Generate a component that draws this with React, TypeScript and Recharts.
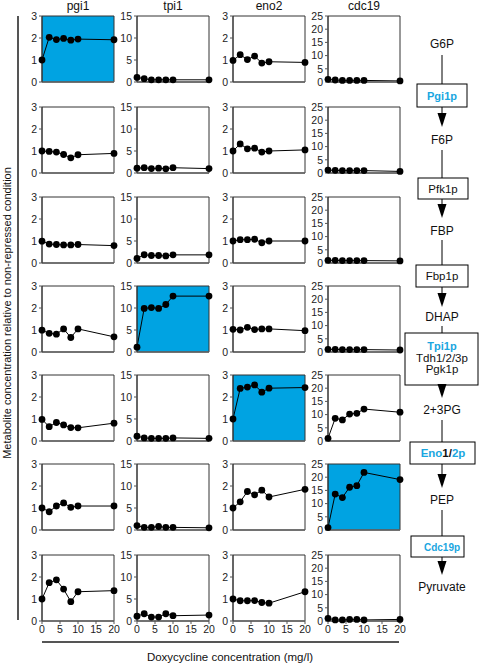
import React from 'react';
import { LineChart, Line, XAxis, YAxis, ReferenceArea } from 'recharts';

const doxycycline = [0, 2, 4, 6, 8, 10, 20];
const xTicks = [0, 5, 10, 15, 20];
const genes = ['pgi1', 'tpi1', 'eno2', 'cdc19'];
const metabolites = ['G6P', 'F6P', 'FBP', 'DHAP', '2+3PG', 'PEP', 'Pyruvate'];

const pgi1Values = [
  [1.0, 2.03, 1.93, 1.98, 1.9, 1.95, 1.92],
  [1.0, 0.98, 0.95, 0.84, 0.69, 0.83, 0.89],
  [0.99, 0.86, 0.84, 0.82, 0.82, 0.84, 0.79],
  [0.99, 0.85, 0.81, 1.05, 0.66, 1.05, 0.69],
  [0.98, 0.65, 0.84, 0.73, 0.61, 0.6, 0.81],
  [1.0, 0.83, 1.09, 1.23, 1.03, 1.09, 1.09],
  [1.0, 1.74, 1.87, 1.45, 0.88, 1.33, 1.38],
];
const tpi1Values = [
  [1.05, 0.75, 0.5, 0.5, 0.5, 0.5, 0.5],
  [1.1, 1.2, 1.0, 1.1, 0.95, 1.2, 1.0],
  [1.05, 1.87, 1.7, 1.7, 1.6, 1.85, 1.85],
  [1.1, 9.9, 10.1, 9.9, 10.8, 12.7, 12.7],
  [1.1, 0.7, 0.6, 0.6, 0.6, 0.7, 0.6],
  [1.0, 0.6, 0.6, 0.8, 0.6, 0.6, 0.5],
  [1.1, 1.65, 0.9, 0.9, 1.65, 1.2, 1.35],
];
const eno2Values = [
  [0.98, 1.24, 1.02, 1.18, 0.86, 0.92, 0.89],
  [1.0, 1.32, 1.1, 1.13, 0.95, 1.0, 1.05],
  [1.0, 1.06, 1.06, 1.08, 0.92, 1.0, 1.0],
  [1.03, 1.0, 1.12, 1.02, 1.05, 1.05, 0.97],
  [1.0, 2.39, 2.45, 2.55, 2.22, 2.4, 2.43],
  [1.0, 1.28, 1.75, 1.6, 1.81, 1.5, 1.85],
  [1.0, 0.92, 0.92, 0.93, 0.84, 0.81, 1.33],
];
const cdc19Values = [
  [1.0, 0.75, 0.6, 0.6, 0.6, 0.6, 0.4],
  [1.1, 1.0, 0.9, 0.9, 0.9, 0.9, 0.6],
  [1.0, 1.0, 0.9, 0.9, 0.9, 0.9, 0.8],
  [1.0, 1.0, 0.9, 0.9, 0.9, 0.9, 0.75],
  [1.0, 8.6, 8.0, 10.2, 10.5, 12.1, 10.9],
  [0.9, 13.6, 12.3, 16.2, 16.8, 21.8, 19.1],
  [1.0, 0.4, 0.4, 0.6, 0.6, 0.4, 0.6],
];

const pgi1Ticks = [0, 1, 2, 3];
const tpi1Ticks = [0, 5, 10, 15];
const eno2Ticks = [0, 1, 2, 3];
const cdc19Ticks = [0, 5, 10, 15, 20, 25];

// [row, column] of the panels where the repressed gene's own substrate is shown
const highlightedPanels = [
  [0, 0],
  [3, 1],
  [4, 2],
  [5, 3],
];

const valuesByGene = [pgi1Values, tpi1Values, eno2Values, cdc19Values];
const ticksByGene = [pgi1Ticks, tpi1Ticks, eno2Ticks, cdc19Ticks];

const BLUE = '#00A3E2';
const TEXT_BLUE = '#1AA6E0';
const FONT = 'Arial, "Liberation Sans", Helvetica, sans-serif';

const PLOT_LEFT = [42, 137, 233, 328];
const PLOT_TOP = [16, 107, 197, 286, 375, 464, 555];
const PLOT_W = 72;
const PLOT_H = 66;
const Y_W = 32;
const M_TOP = 6;
const M_RIGHT = 6;
const X_H = 20;

function Panel({ row, col }: { row: number; col: number }) {
  const vals = valuesByGene[col][row];
  const data = doxycycline.map((x, i) => ({ x, y: vals[i] }));
  const ticks = ticksByGene[col];
  const yMax = ticks[ticks.length - 1];
  const highlighted = highlightedPanels.some(([r, c]) => r === row && c === col);
  const bottom = row === metabolites.length - 1;
  const W = Y_W + PLOT_W + M_RIGHT;
  const H = M_TOP + PLOT_H + X_H;
  return (
    <div
      style={{
        position: 'absolute',
        left: PLOT_LEFT[col] - Y_W,
        top: PLOT_TOP[row] - M_TOP,
        width: W,
        height: H,
      }}
    >
      <LineChart width={W} height={H} data={data} margin={{ top: M_TOP, right: M_RIGHT, left: 0, bottom: 0 }}>
        <ReferenceArea
          x1={0}
          x2={20}
          y1={0}
          y2={yMax}
          fill={highlighted ? BLUE : '#ffffff'}
          fillOpacity={1}
          stroke="#333"
          strokeWidth={1}
          ifOverflow="visible"
        />
        <XAxis
          type="number"
          dataKey="x"
          domain={[0, 20]}
          ticks={xTicks}
          interval={0}
          height={X_H}
          tick={bottom ? { fontSize: 10.5, fill: '#222' } : false}
          tickSize={3}
          tickMargin={2}
          tickLine={{ stroke: '#555' }}
          axisLine={{ stroke: '#666', strokeWidth: 1.5 }}
        />
        <YAxis
          type="number"
          domain={[0, yMax]}
          ticks={ticks}
          interval={0}
          width={Y_W}
          tick={{ fontSize: 10.5, fill: '#222' }}
          tickSize={3}
          tickMargin={2}
          tickLine={{ stroke: '#555' }}
          axisLine={{ stroke: '#333' }}
        />
        <Line
          type="linear"
          dataKey="y"
          stroke="#000"
          strokeWidth={1}
          dot={{ r: 3.4, fill: '#000', stroke: '#000', strokeWidth: 0 }}
          isAnimationActive={false}
        />
      </LineChart>
    </div>
  );
}

function Arrow({ x, y1, y2 }: { x: number; y1: number; y2: number }) {
  const headTop = y2 - 14;
  return (
    <g>
      {headTop > y1 && <line x1={x} y1={y1} x2={x} y2={headTop} stroke="#000" strokeWidth={1} />}
      <polygon points={`${x - 4.5},${headTop} ${x + 4.5},${headTop} ${x},${y2}`} fill="#000" />
    </g>
  );
}

function Pathway() {
  const cx = 442;
  const metText = (label: string, cy: number) => (
    <text x={cx} y={cy + 4.3} textAnchor="middle" fontSize={12} fill="#111">
      {label}
    </text>
  );
  const box = (x: number, y: number, w: number, h: number) => (
    <rect x={x} y={y} width={w} height={h} fill="#fff" stroke="#000" strokeWidth={1} />
  );
  return (
    <svg
      width={480}
      height={664}
      style={{ position: 'absolute', left: 0, top: 0, pointerEvents: 'none', fontFamily: FONT }}
    >
      {/* y-axis title and bracket line */}
      <line x1={18} y1={16} x2={18} y2={620} stroke="#555" strokeWidth={2} />
      <text
        x={0}
        y={0}
        transform="translate(10.5,313) rotate(-90)"
        textAnchor="middle"
        fontSize={11}
        fill="#111"
      >
        Metabolite concentration relative to non-repressed condition
      </text>
      {/* x-axis title and bracket line */}
      <line x1={42} y1={642} x2={399} y2={642} stroke="#555" strokeWidth={2} />
      <text x={230} y={661} textAnchor="middle" fontSize={11.5} fill="#111">
        Doxycycline concentration (mg/l)
      </text>
      {/* gene titles */}
      {genes.map((g, i) => (
        <text key={g} x={PLOT_LEFT[i] + PLOT_W / 2} y={10} textAnchor="middle" fontSize={12} fill="#111">
          {g}
        </text>
      ))}

      {/* pathway */}
      {metText(metabolites[0], 44)}
      <line x1={cx} y1={55} x2={cx} y2={84} stroke="#000" />
      {box(417, 84, 50, 23)}
      <text x={cx} y={99.5} textAnchor="middle" fontSize={11} fontWeight="bold" fill={TEXT_BLUE}>
        Pgi1p
      </text>
      <Arrow x={cx} y1={107} y2={127} />

      {metText(metabolites[1], 140)}
      <line x1={cx} y1={150} x2={cx} y2={178} stroke="#000" />
      {box(418, 178, 50, 21)}
      <text x={cx + 1} y={192.5} textAnchor="middle" fontSize={11.5} fill="#111">
        Pfk1p
      </text>
      <Arrow x={cx} y1={199} y2={218} />

      {metText(metabolites[2], 231)}
      <line x1={cx} y1={240} x2={cx} y2={265} stroke="#000" />
      {box(416, 265, 52, 22)}
      <text x={cx} y={280} textAnchor="middle" fontSize={11.5} fill="#111">
        Fbp1p
      </text>
      <Arrow x={cx} y1={287} y2={307} />

      {metText(metabolites[3], 317)}
      <line x1={cx} y1={326} x2={cx} y2={333} stroke="#000" />
      {box(405, 333, 73, 52)}
      <text x={cx} y={350} textAnchor="middle" fontSize={11} fontWeight="bold" fill={TEXT_BLUE}>
        Tpi1p
      </text>
      <text x={cx} y={361.5} textAnchor="middle" fontSize={11.5} fill="#111">
        Tdh1/2/3p
      </text>
      <text x={cx} y={373} textAnchor="middle" fontSize={11.5} fill="#111">
        Pgk1p
      </text>
      <Arrow x={cx} y1={385} y2={398} />

      {metText(metabolites[4], 410)}
      <line x1={cx} y1={420} x2={cx} y2={442} stroke="#000" />
      {box(410, 442, 65, 22)}
      <text x={cx + 1} y={457} textAnchor="middle" fontSize={11.5} fontWeight="bold">
        <tspan fill={TEXT_BLUE}>Eno</tspan>
        <tspan fill="#111">1/</tspan>
        <tspan fill={TEXT_BLUE}>2p</tspan>
      </text>
      <Arrow x={cx} y1={464} y2={488} />

      {metText(metabolites[5], 500)}
      <line x1={cx} y1={510} x2={cx} y2={536} stroke="#000" />
      {box(411, 536, 53, 21)}
      <text x={cx} y={550.5} textAnchor="middle" fontSize={10} fontWeight="bold" fill={TEXT_BLUE}>
        Cdc19p
      </text>
      <Arrow x={cx} y1={557} y2={575} />

      {metText(metabolites[6], 587)}
    </svg>
  );
}

export default function App() {
  return (
    <div
      style={{
        position: 'absolute',
        left: 0,
        top: 0,
        width: 480,
        height: 664,
        background: '#fff',
        fontFamily: FONT,
        overflow: 'hidden',
      }}
    >
      {metabolites.map((_, row) =>
        genes.map((__, col) => <Panel key={`${row}-${col}`} row={row} col={col} />)
      )}
      <Pathway />
    </div>
  );
}
